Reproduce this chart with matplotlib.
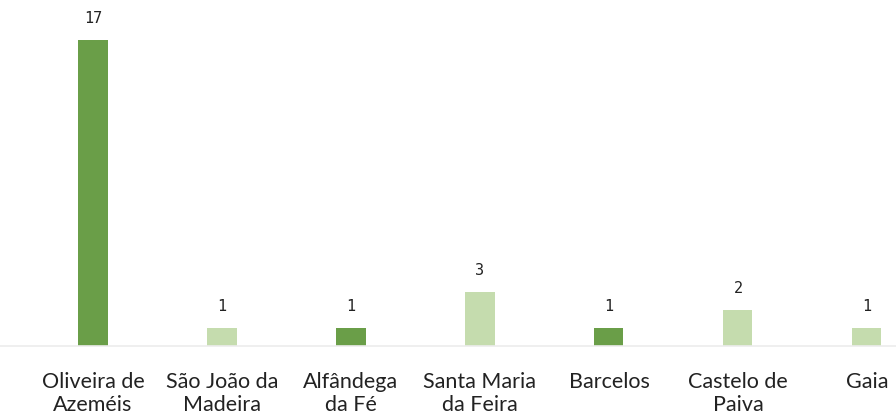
import matplotlib
matplotlib.use('Agg')
import matplotlib.pyplot as plt

# concelhos e número de casos
concelhos = ['Oliveira de\nAzeméis', 'São João da\nMadeira', 'Alfândega\nda Fé',
             'Santa Maria\nda Feira', 'Barcelos', 'Castelo de\nPaiva', 'Gaia']
casos = [17, 1, 1, 3, 1, 2, 1]
escuro = [True, False, True, False, True, False, False]

verde_escuro = '#6a9e48'
verde_claro = '#c5dcae'

w_width = 896
w_height = 417
dpi = 100

fig = plt.figure(figsize=(w_width / dpi, w_height / dpi), dpi=dpi)
ax = fig.add_axes([0, 0.170, 1, 0.830])

x = list(range(len(concelhos)))
cores = [verde_escuro if e else verde_claro for e in escuro]
barras = ax.bar(x, casos, width=0.225, color=cores, zorder=2)

for b, v in zip(barras, casos):
    ax.annotate(str(v), (b.get_x() + b.get_width() / 2, v),
                xytext=(0, 10), textcoords='offset points',
                ha='center', va='bottom', fontsize=11,
                family='DejaVu Sans Mono', color='#222222')

ax.set_xlim(-0.721, 6.225)
ax.set_ylim(0, 19.2)
ax.set_xticks(x)
ax.set_xticklabels(concelhos, fontsize=15.5, family='Lato', color='#222222',
                   linespacing=1.2)
ax.tick_params(axis='x', length=0, pad=18.5)
ax.set_yticks([])
for s in ['top', 'left', 'right']:
    ax.spines[s].set_visible(False)
ax.spines['bottom'].set_color('#ececec')
ax.spines['bottom'].set_linewidth(1.2)

fig.savefig('out.png', dpi=dpi)
